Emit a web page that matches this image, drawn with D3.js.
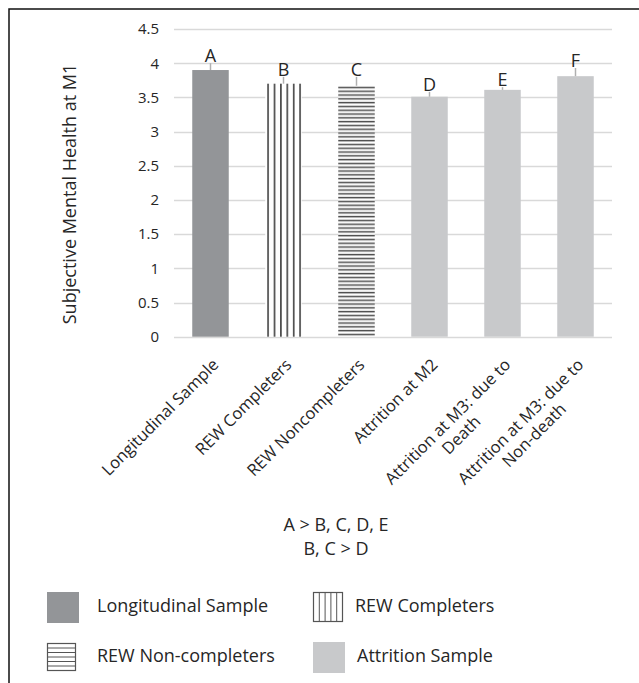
<!DOCTYPE html>
<html lang="en">
<head>
  <meta charset="UTF-8">
  <title>Subjective Mental Health at M1</title>
  <style>
    body { margin: 0; background: #fff; }
    svg { display: block; }
    text { font-family: "Open Sans", sans-serif; fill: #262626; }
  </style>
</head>
<body>
  <svg id="chart"></svg>

  <script src="https://d3js.org/d3.v7.min.js"></script>
  <script>
    // data
    var categories = ["Longitudinal Sample", "REW Completers", "REW Noncompleters",
      "Attrition at M2", "Attrition at M3: due to Death", "Attrition at M3: due to Non-death"];
    var tickLines = [["Longitudinal Sample"], ["REW Completers"], ["REW Noncompleters"],
      ["Attrition at M2"], ["Attrition at M3: due to", "Death"], ["Attrition at M3: due to", "Non-death"]];
    var means = [3.90, 3.70, 3.67, 3.51, 3.61, 3.81];
    var errors = [0.10, 0.10, 0.13, 0.07, 0.04, 0.12];
    var letters = ["A", "B", "C", "D", "E", "F"];
    var groups = ["long", "comp", "noncomp", "attr", "attr", "attr"];
    var yTicks = [0, 0.5, 1, 1.5, 2, 2.5, 3, 3.5, 4, 4.5];
    var notes = ["A > B, C, D, E", "B, C > D"];
    var legendNames = ["Longitudinal Sample", "REW Completers", "REW Non-completers", "Attrition Sample"];
    var legendGroups = ["long", "comp", "noncomp", "attr"];

    var W = 639, H = 683;
    var svg = d3.select("#chart").attr("width", W).attr("height", H);

    // frame (cut off at right and bottom like the source)
    svg.append("rect")
      .attr("x", 9).attr("y", 9)
      .attr("width", W + 20).attr("height", H + 20)
      .attr("fill", "none").attr("stroke", "#111").attr("stroke-width", 1.5);

    var x = d3.scaleBand().domain(categories).range([174, 612]).paddingInner(0.5).paddingOuter(0.25);
    var y = d3.scaleLinear().domain([0, 4.5]).range([336.7, 29]);

    var defs = svg.append("defs");

    // vertical stripes for REW completers bar
    var pv = defs.append("pattern").attr("id", "vstripe")
      .attr("patternUnits", "userSpaceOnUse")
      .attr("x", x(categories[1]) + 2).attr("y", 0)
      .attr("width", 6.4).attr("height", 10);
    pv.append("rect").attr("width", 6.4).attr("height", 10).attr("fill", "#fff");
    pv.append("rect").attr("x", 0).attr("width", 1.7).attr("height", 10).attr("fill", "#4d4d4d");

    // horizontal stripes for REW noncompleters bar
    var ph = defs.append("pattern").attr("id", "hstripe")
      .attr("patternUnits", "userSpaceOnUse")
      .attr("x", 0).attr("y", y(0))
      .attr("width", 10).attr("height", 3.8);
    ph.append("rect").attr("width", 10).attr("height", 3.8).attr("fill", "#fff");
    ph.append("rect").attr("y", 0.8).attr("width", 10).attr("height", 1.5).attr("fill", "#4d4d4d");

    var fills = { long: "#939598", comp: "url(#vstripe)", noncomp: "url(#hstripe)", attr: "#c8c9cb" };

    // gridlines
    svg.append("g").selectAll("line")
      .data(yTicks).enter()
      .append("line")
      .attr("x1", 174).attr("x2", 612)
      .attr("y1", function (d) { return Math.round(y(d)) + 0.5; })
      .attr("y2", function (d) { return Math.round(y(d)) + 0.5; })
      .attr("stroke", "#d9d9d9").attr("stroke-width", 1.3);

    // y axis labels
    var axisY = d3.axisLeft(y).tickValues(yTicks).tickSize(0).tickPadding(0)
      .tickFormat(function (d) { return d3.format("")(d); });
    var gy = svg.append("g").attr("transform", "translate(159,0)").call(axisY);
    gy.select(".domain").remove();
    gy.selectAll("text")
      .style("font-family", "'Open Sans', sans-serif")
      .style("font-size", "15px").attr("fill", "#333");

    svg.append("text")
      .attr("transform", "translate(76," + 194 + ") rotate(-90)")
      .attr("text-anchor", "middle")
      .style("font-size", "18px")
      .text("Subjective Mental Health at M1");

    // bars
    svg.append("g").selectAll("rect")
      .data(categories).enter()
      .append("rect")
      .attr("x", function (d) { return x(d); })
      .attr("width", x.bandwidth())
      .attr("y", function (d, i) { return y(means[i]); })
      .attr("height", function (d, i) { return y(0) - y(means[i]); })
      .attr("fill", function (d, i) { return fills[groups[i]]; });

    // error stems
    svg.append("g").selectAll("line")
      .data(categories).enter()
      .append("line")
      .attr("x1", function (d) { return x(d) + x.bandwidth() / 2; })
      .attr("x2", function (d) { return x(d) + x.bandwidth() / 2; })
      .attr("y1", function (d, i) { return y(means[i]); })
      .attr("y2", function (d, i) { return y(means[i] + errors[i]); })
      .attr("stroke", "#b0b0b0").attr("stroke-width", 1.5);

    // letters
    svg.append("g").selectAll("text")
      .data(categories).enter()
      .append("text")
      .attr("x", function (d) { return x(d) + x.bandwidth() / 2; })
      .attr("y", function (d, i) { return y(means[i] + errors[i]) - 1; })
      .attr("text-anchor", "middle")
      .style("font-size", "18px")
      .text(function (d, i) { return letters[i]; });

    // category labels, rotated
    var lab = svg.append("g").selectAll("g")
      .data(categories).enter()
      .append("g")
      .attr("transform", function (d) {
        return "translate(" + (x(d) + x.bandwidth() / 2 + 5) + "," + (y(0) + 25) + ") rotate(-45)";
      });
    lab.each(function (d, i) {
      var g = d3.select(this);
      var lines = tickLines[i];
      var t = g.append("text").style("font-size", "16.5px");
      lines.forEach(function (s, j) {
        t.append("tspan").attr("x", 0).attr("dy", j == 0 ? "0.35em" : "1.15em").text(s);
      });
      var w = t.node().getBBox().width;
      t.attr("text-anchor", "middle");
      t.selectAll("tspan").attr("x", -w / 2);
    });

    // notes
    svg.append("g").selectAll("text")
      .data(notes).enter()
      .append("text")
      .attr("x", 336)
      .attr("y", function (d, i) { return 531 + i * 24; })
      .attr("text-anchor", "middle")
      .style("font-size", "18px")
      .text(function (d) { return d; });

    // legend
    var legX = [47, 313, 47, 313], legY = [592, 592, 642, 642], legTX = [97, 355, 97, 357];
    var leg = svg.append("g").selectAll("g")
      .data(legendNames).enter()
      .append("g")
      .attr("transform", function (d, i) { return "translate(" + legX[i] + "," + legY[i] + ")"; });

    leg.each(function (d, i) {
      var g = d3.select(this);
      var grp = legendGroups[i];
      if (grp == "long" || grp == "attr") {
        g.append("rect").attr("width", 32).attr("height", 31).attr("fill", fills[grp]);
      } else if (grp == "comp") {
        g.append("rect").attr("x", 0.5).attr("y", 0.5).attr("width", 29).attr("height", 29)
          .attr("fill", "#fff").attr("stroke", "#555").attr("stroke-width", 1.2);
        g.selectAll("line.s").data(d3.range(1, 5)).enter().append("line")
          .attr("x1", function (k) { return 0.5 + k * 29 / 5; })
          .attr("x2", function (k) { return 0.5 + k * 29 / 5; })
          .attr("y1", 0.5).attr("y2", 29.5)
          .attr("stroke", "#555").attr("stroke-width", 1);
      } else {
        g.append("rect").attr("x", 0.5).attr("y", 1.5).attr("width", 28).attr("height", 27)
          .attr("fill", "#fff").attr("stroke", "#555").attr("stroke-width", 1.2);
        g.selectAll("line.s").data(d3.range(1, 6)).enter().append("line")
          .attr("x1", 0.5).attr("x2", 28.5)
          .attr("y1", function (k) { return 1.5 + k * 27 / 6; })
          .attr("y2", function (k) { return 1.5 + k * 27 / 6; })
          .attr("stroke", "#555").attr("stroke-width", 1);
      }
      g.append("text")
        .attr("x", legTX[i] - legX[i])
        .attr("y", 14)
        .attr("dy", "0.35em")
        .style("font-size", "18px")
        .text(d);
    });
  </script>
</body>
</html>
